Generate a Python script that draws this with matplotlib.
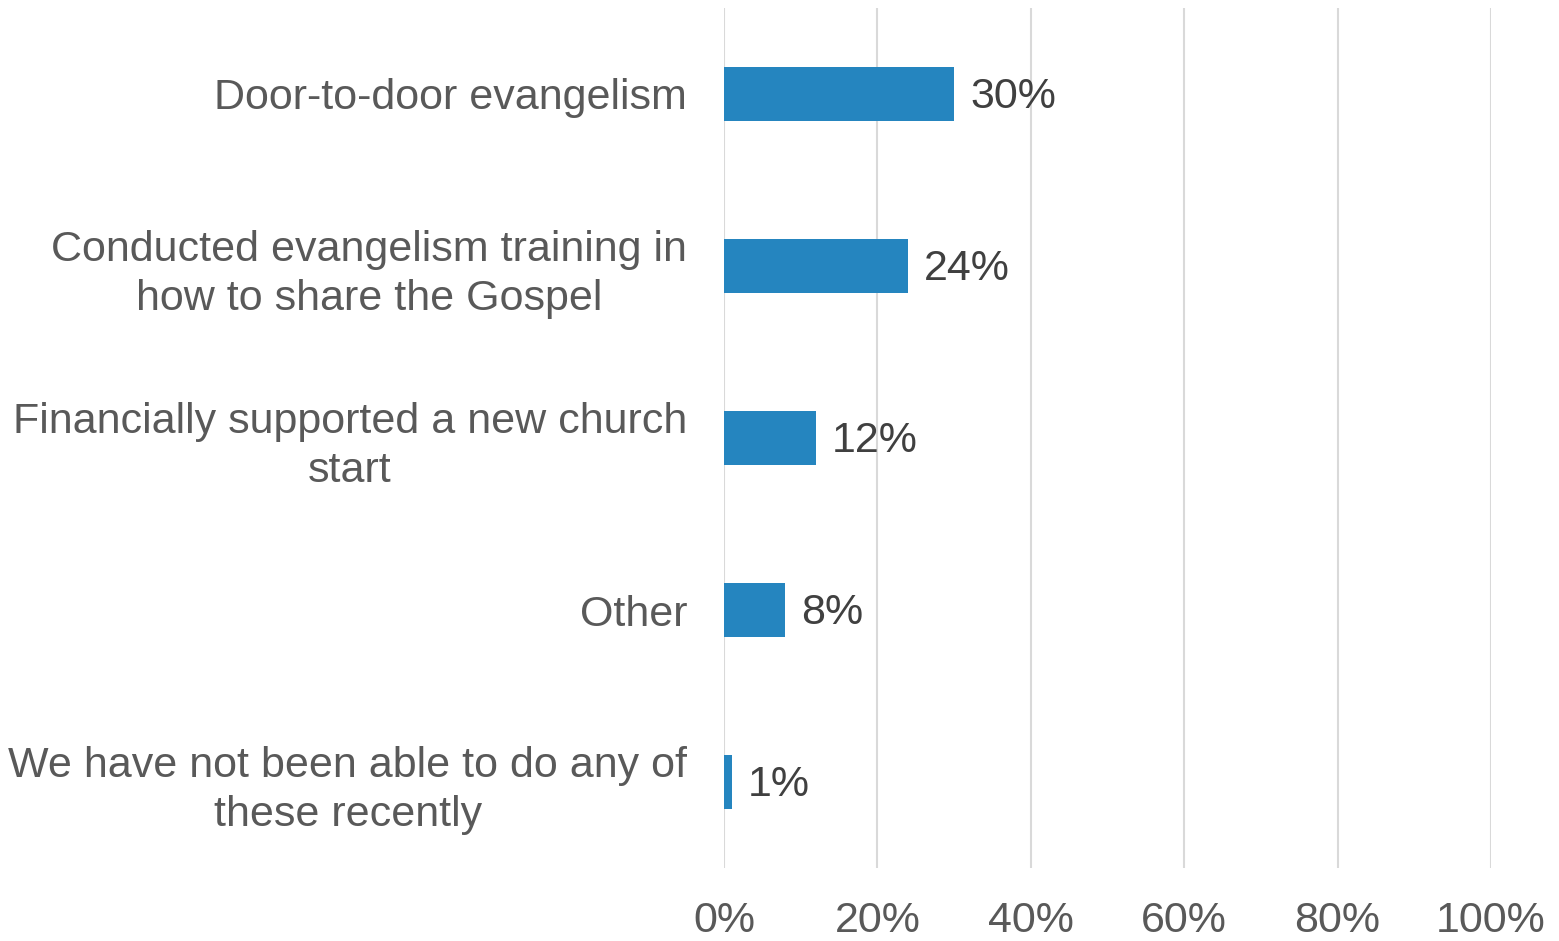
import matplotlib
matplotlib.use("Agg")
import matplotlib.pyplot as plt
import numpy as np

categories = [
    "Door-to-door evangelism",
    "Conducted evangelism training in\nhow to share the Gospel",
    "Financially supported a new church\nstart",
    "Other",
    "We have not been able to do any of\nthese recently",
]
values = [30, 24, 12, 8, 1]
x_ticks = [0, 20, 40, 60, 80, 100]

plt.rcParams["font.family"] = ["Liberation Sans", "DejaVu Sans"]

fig = plt.figure(figsize=(15.59, 9.41), dpi=100)
ax = fig.add_axes([724 / 1559, 1 - 868 / 941, (1491 - 724) / 1559, (868 - 8) / 941])

y = np.arange(len(categories))
ax.barh(y, values, height=0.31, color="#2585BF", zorder=3)

for yi, v in zip(y, values):
    ax.text(v + 2.1, yi + 0.02, f"{v}%", va="center", ha="left", fontsize=31, color="#404040")

ax.set_xlim(0, 100)
ax.set_ylim(len(categories) - 0.5, -0.5)
ax.set_xticks(x_ticks)
ax.set_xticklabels([f"{t}%" for t in x_ticks], fontsize=31, color="#595959")
ax.set_yticks(y)
ax.set_yticklabels(categories, fontsize=31, color="#595959")
for lbl in ax.get_yticklabels():
    lbl.set_multialignment("center")
    lbl.set_linespacing(1.28)

ax.tick_params(axis="both", length=0)
ax.tick_params(axis="x", pad=24)
ax.tick_params(axis="y", pad=26.5)
ax.grid(axis="x", color="#D9D9D9", linewidth=1.5, zorder=0)
for s in ax.spines.values():
    s.set_visible(False)

fig.savefig("out.png", dpi=100)
